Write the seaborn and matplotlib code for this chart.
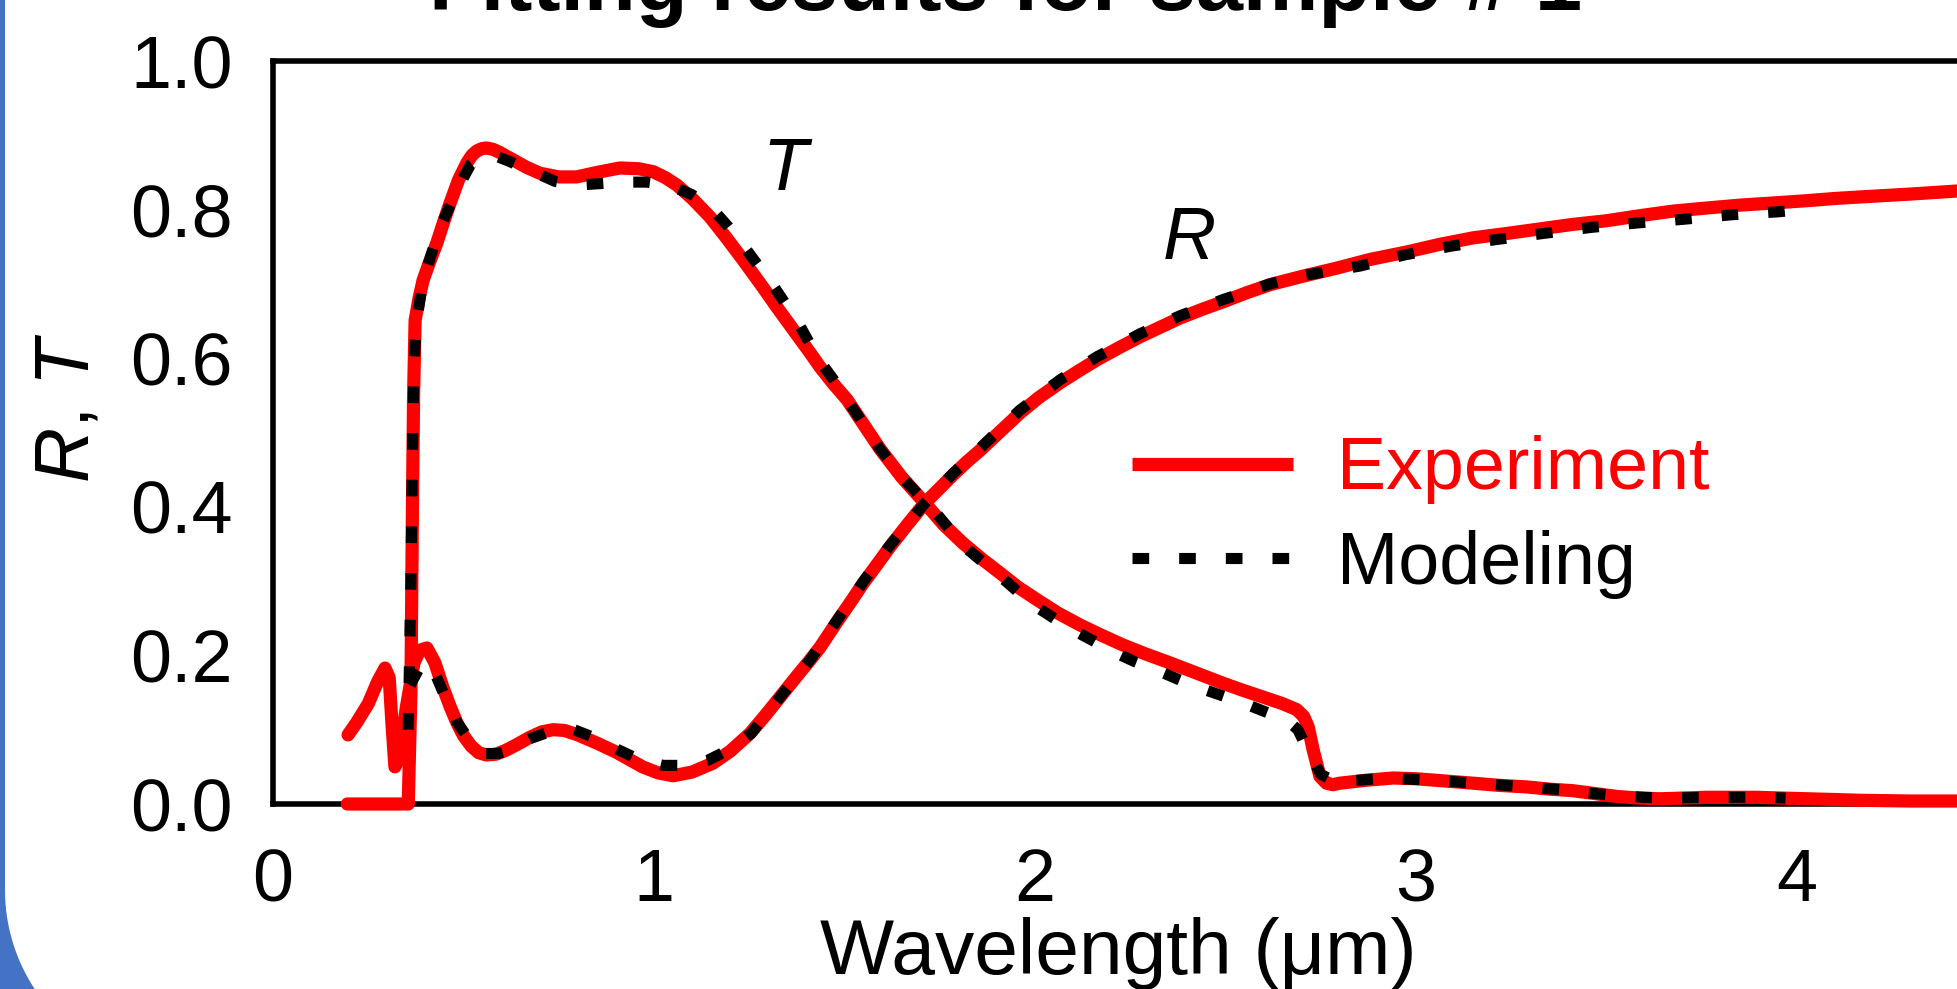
import numpy as np
import matplotlib
matplotlib.use("Agg")
import matplotlib.pyplot as plt
from matplotlib.patches import Polygon
from matplotlib.ticker import MultipleLocator
import seaborn as sns

# ---------------- data ----------------
exp_T_x = [0.195, 0.30, 0.355, 0.362, 0.366, 0.369, 0.373, 0.383, 0.394, 0.41, 0.43, 0.447,
           0.465, 0.487, 0.509, 0.522, 0.535, 0.548, 0.56, 0.578, 0.595, 0.612, 0.63, 0.665,
           0.70, 0.75, 0.797, 0.85, 0.91, 0.96, 0.998, 1.03, 1.06, 1.10, 1.147, 1.19, 1.234,
           1.278, 1.322, 1.366, 1.41, 1.436, 1.47, 1.507, 1.55, 1.593, 1.65, 1.711, 1.76, 1.811,
           1.86, 1.908, 1.955, 2.005, 2.06, 2.118, 2.175, 2.231, 2.29, 2.354, 2.42, 2.486, 2.54,
           2.598, 2.65, 2.687, 2.705, 2.717, 2.73, 2.748, 2.765, 2.782, 2.80, 2.87, 2.94, 3.0,
           3.075, 3.15, 3.22, 3.29, 3.35, 3.41, 3.47, 3.53, 3.585, 3.64, 3.70, 3.76, 3.83, 3.895,
           3.96, 4.03, 4.10, 4.165, 4.30, 4.50]
exp_T_y = [0.0, 0.0, 0.0, 0.15, 0.40, 0.55, 0.651, 0.68, 0.705, 0.728, 0.755, 0.782,
           0.809, 0.840, 0.863, 0.873, 0.879, 0.882, 0.883, 0.881, 0.877, 0.872, 0.867, 0.857,
           0.849, 0.844, 0.844, 0.850, 0.856, 0.855, 0.851, 0.843, 0.833, 0.815, 0.790, 0.762, 0.732,
           0.701, 0.669, 0.638, 0.607, 0.588, 0.566, 0.544, 0.511, 0.478, 0.44, 0.405, 0.376, 0.351,
           0.330, 0.311, 0.292, 0.275, 0.257, 0.241, 0.227, 0.214, 0.202, 0.190, 0.177, 0.164, 0.154,
           0.144, 0.135, 0.127, 0.118, 0.104, 0.073, 0.037, 0.028, 0.026, 0.028, 0.032, 0.035, 0.034,
           0.031, 0.028, 0.025, 0.023, 0.020, 0.018, 0.014, 0.010, 0.008, 0.007, 0.008, 0.009, 0.009, 0.009,
           0.008, 0.007, 0.006, 0.005, 0.004, 0.004]

exp_R_x = [0.197, 0.22, 0.25, 0.275, 0.294, 0.305, 0.312, 0.32, 0.33, 0.35, 0.37, 0.385, 0.404,
           0.425, 0.446, 0.465, 0.483, 0.50, 0.52, 0.54, 0.56, 0.585, 0.61, 0.64, 0.675, 0.705,
           0.735, 0.765, 0.80, 0.85, 0.90, 0.935, 0.97, 1.01, 1.05, 1.10, 1.155, 1.20, 1.252,
           1.29, 1.331, 1.37, 1.41, 1.436, 1.48, 1.515, 1.549, 1.585, 1.619, 1.665, 1.711, 1.75,
           1.785, 1.82, 1.856, 1.91, 1.96, 2.01, 2.066, 2.115, 2.163, 2.22, 2.276, 2.33, 2.38,
           2.44, 2.494, 2.555, 2.617, 2.70, 2.79, 2.88, 2.976, 3.06, 3.15, 3.24, 3.325, 3.41,
           3.50, 3.59, 3.675, 3.76, 3.85, 3.94, 4.026, 4.10, 4.165, 4.30, 4.45, 4.55]
exp_R_y = [0.093, 0.11, 0.135, 0.165, 0.183, 0.17, 0.11, 0.05, 0.06, 0.13, 0.19, 0.207, 0.21,
           0.19, 0.157, 0.131, 0.109, 0.092, 0.078, 0.069, 0.066, 0.067, 0.072, 0.080, 0.090, 0.097,
           0.100, 0.099, 0.093, 0.082, 0.070, 0.060, 0.050, 0.042, 0.038, 0.043, 0.055, 0.071, 0.095,
           0.118, 0.144, 0.169, 0.194, 0.211, 0.245, 0.271, 0.297, 0.322, 0.346, 0.376, 0.405, 0.425,
           0.443, 0.460, 0.476, 0.502, 0.526, 0.547, 0.567, 0.583, 0.598, 0.614, 0.629, 0.642, 0.654,
           0.666, 0.676, 0.688, 0.699, 0.710, 0.721, 0.733, 0.743, 0.753, 0.762, 0.768, 0.774, 0.780,
           0.785, 0.792, 0.798, 0.802, 0.806, 0.809, 0.812, 0.815, 0.817, 0.821, 0.826, 0.829]

mod_T_x = [0.355, 0.362, 0.366, 0.370, 0.376, 0.394, 0.413, 0.433, 0.458, 0.483, 0.50, 0.52,
           0.54, 0.565, 0.59, 0.62, 0.65, 0.683, 0.74, 0.797, 0.86, 0.92, 0.98, 1.04, 1.10,
           1.155, 1.195, 1.234, 1.27, 1.31, 1.34, 1.375, 1.43, 1.47, 1.507, 1.55, 1.593, 1.65,
           1.738, 1.811, 1.86, 1.905, 1.95, 1.995, 2.05, 2.10, 2.155, 2.205, 2.26, 2.32, 2.375,
           2.433, 2.49, 2.546, 2.60, 2.661, 2.69, 2.722, 2.75, 2.787, 2.85, 2.92, 3.04, 3.16,
           3.285, 3.41, 3.47, 3.53, 3.60, 3.66, 3.78, 3.905, 3.97]
mod_T_y = [0.10, 0.30, 0.47, 0.587, 0.647, 0.705, 0.736, 0.768, 0.798, 0.826, 0.843, 0.862,
           0.870, 0.873, 0.871, 0.865, 0.858, 0.851, 0.838, 0.833, 0.835, 0.837, 0.837, 0.833, 0.82,
           0.80, 0.777, 0.752, 0.727, 0.70, 0.677, 0.651, 0.60, 0.572, 0.544, 0.511, 0.478, 0.44,
           0.393, 0.348, 0.327, 0.308, 0.288, 0.268, 0.250, 0.234, 0.219, 0.205, 0.192, 0.18, 0.168,
           0.156, 0.146, 0.136, 0.125, 0.113, 0.10, 0.066, 0.04, 0.03, 0.032, 0.035, 0.032, 0.028,
           0.023, 0.018, 0.014, 0.011, 0.009, 0.008, 0.009, 0.009, 0.008]

mod_R_x = [0.36, 0.386, 0.41, 0.43, 0.455, 0.483, 0.52, 0.556, 0.59, 0.62, 0.675, 0.73,
           0.79, 0.85, 0.906, 0.96, 1.024, 1.08, 1.142, 1.20, 1.255, 1.331, 1.41, 1.48, 1.549,
           1.619, 1.711, 1.785, 1.856, 1.96, 2.066, 2.163, 2.276, 2.38, 2.494, 2.617, 2.70,
           2.853, 2.97, 3.094, 3.215, 3.336, 3.459, 3.58, 3.703, 3.827, 3.95, 3.97]
mod_R_y = [0.16, 0.185, 0.19, 0.17, 0.14, 0.11, 0.083, 0.068, 0.068, 0.072, 0.088, 0.098,
           0.10, 0.088, 0.073, 0.06, 0.052, 0.052, 0.059, 0.074, 0.095, 0.144, 0.194, 0.247, 0.299,
           0.348, 0.405, 0.445, 0.479, 0.53, 0.571, 0.602, 0.633, 0.657, 0.679, 0.700, 0.711,
           0.724, 0.739, 0.751, 0.760, 0.768, 0.776, 0.782, 0.787, 0.793, 0.797, 0.798]

x_ticks = [0, 1, 2, 3, 4]
y_ticks = [0.0, 0.2, 0.4, 0.6, 0.8, 1.0]
series_labels = ["Experiment", "Modeling"]
title_text = "Fitting results for sample # 1"

# ---------------- style ----------------
sns.set_style("white")
plt.rcParams["font.family"] = ["Liberation Sans", "DejaVu Sans"]
plt.rcParams["mathtext.fontset"] = "custom"
plt.rcParams["mathtext.rm"] = "Liberation Sans"
plt.rcParams["mathtext.it"] = "Liberation Sans:italic"
for k in ["text.color", "axes.labelcolor", "xtick.color", "ytick.color", "axes.edgecolor"]:
    plt.rcParams[k] = "black"

FS = 53
W, H = 1957, 989
fig = plt.figure(figsize=(W / 100, H / 100), dpi=100)
fig.patch.set_facecolor("white")

# axes placed so that x = 0..5 runs past the right edge (as in the cropped slide)
x0_px, y0_px, px_unit, y_len = 273, 804, 381, 743
ax = fig.add_axes([x0_px / W, (H - y0_px) / H, 5 * px_unit / W, y_len / H])
ax.set_facecolor("white")

RED = "#FF0000"
lw_red = 9.5
lw_dot = 8.0
dot_style = (0, (1.5, 2.7))

sns.lineplot(x=exp_T_x, y=exp_T_y, ax=ax, color=RED, lw=lw_red, sort=False, estimator=None,
             solid_capstyle="round", solid_joinstyle="round", zorder=3, clip_on=False)
sns.lineplot(x=exp_R_x, y=exp_R_y, ax=ax, color=RED, lw=lw_red, sort=False, estimator=None,
             solid_capstyle="round", solid_joinstyle="round", zorder=3, clip_on=False)
sns.lineplot(x=mod_T_x, y=mod_T_y, ax=ax, color="black", lw=lw_dot, sort=False, estimator=None,
             linestyle=dot_style, dash_capstyle="butt", zorder=4, clip_on=False)
sns.lineplot(x=mod_R_x, y=mod_R_y, ax=ax, color="black", lw=lw_dot, sort=False, estimator=None,
             linestyle=dot_style, dash_capstyle="butt", zorder=4, clip_on=False)

ax.set_xlim(0, 5)
ax.set_ylim(0, 1.0)
ax.set_xticks(x_ticks)
ax.set_xticklabels([str(v) for v in x_ticks])
ax.set_yticks(y_ticks)
ax.set_yticklabels([f"{v:.1f}" for v in y_ticks])
ax.xaxis.set_minor_locator(MultipleLocator(0.2))
ax.yaxis.set_minor_locator(MultipleLocator(0.1))

for s in ["left", "bottom", "top", "right"]:
    ax.spines[s].set_visible(True)
    ax.spines[s].set_linewidth(4)
    ax.spines[s].set_color("black")

ax.tick_params(axis="both", which="major", direction="in", length=23, width=3.6,
               labelsize=FS, colors="black")
ax.tick_params(axis="both", which="minor", direction="in", length=14, width=3.6, colors="black")
ax.tick_params(axis="x", which="major", pad=31)
ax.tick_params(axis="y", which="major", pad=29)

ax.set_xlabel("Wavelength (\u03bcm)", fontsize=56.5, color="black")
ax.xaxis.set_label_coords((1118 - x0_px) / (5 * px_unit), (y0_px - 917) / y_len)
ax.set_ylabel("$R$, $T$", fontsize=55, color="black")
ax.yaxis.set_label_coords((104 - x0_px) / (5 * px_unit), (y0_px - 408) / y_len)

ax.text(1.344, 0.852, "T", style="italic", fontsize=FS, ha="center", va="center", color="black")
ax.text(2.404, 0.760, "R", style="italic", fontsize=FS, ha="center", va="center", color="black")

lines = ax.get_lines()
leg = ax.legend([lines[0], lines[2]], series_labels, loc="center left",
                bbox_to_anchor=(1132 / W, (H - 517) / H), bbox_transform=fig.transFigure,
                frameon=False, fontsize=FS, borderpad=0, borderaxespad=0,
                handlelength=2.19, handletextpad=0.60, labelspacing=0.34)
leg.get_texts()[0].set_color(RED)
leg.get_texts()[1].set_color("black")
for h in leg.legend_handles:
    h.set_solid_capstyle("butt")

# title, mostly cropped off the top of the picture
fig.text(1006 / W, (H - 10) / H, title_text, fontsize=61, fontweight="bold",
         ha="center", va="baseline", color="black")

# blue slide frame at the left edge with a rounded bottom-left corner
BLUE = "#4472C4"
r = 180
cx, cy = 5 + r, 890
ang = np.linspace(np.pi, np.pi - np.arccos((cx - 35) / r), 30)
pts = [(0, 0), (5, 0), (5, cy)] + [(cx + r * np.cos(a), cy + r * abs(np.sin(a))) for a in ang] + [(35, H), (0, H)]
pts_fig = [(px / W, (H - py) / H) for px, py in pts]
fig.patches.append(Polygon(pts_fig, closed=True, transform=fig.transFigure,
                           facecolor=BLUE, edgecolor="none", zorder=10))

fig.savefig("out.png", dpi=100, facecolor="white")
